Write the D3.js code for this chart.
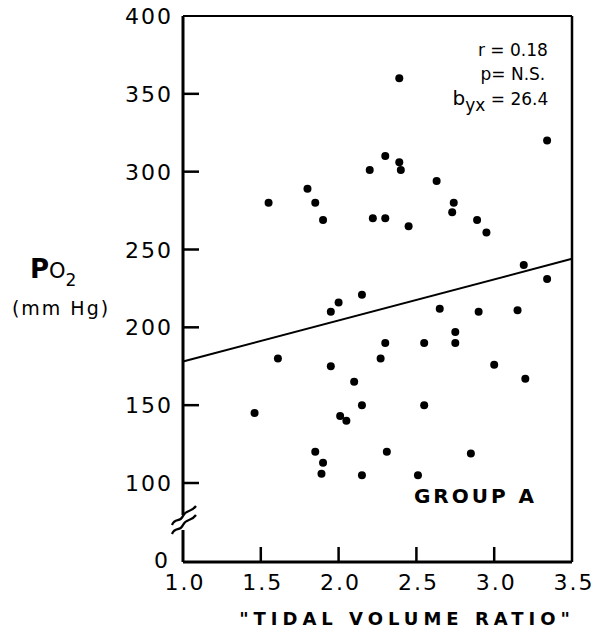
<!DOCTYPE html>
<html lang="en">

<head>
    <meta charset="UTF-8">
    <title>PO2 vs Tidal Volume Ratio - Group A</title>
    <script src="https://d3js.org/d3.v7.min.js"></script>
    <style>
        body { margin: 0; background: #fff; }
        svg text { font-family: "DejaVu Sans", "Liberation Sans", Arial, sans-serif; fill: #000; }
    </style>
</head>

<body>
    <svg width="593" height="634"></svg>

    <script>
        // values
        const tidalVolumeRatio = [
            1.46, 1.55, 1.80, 1.85, 1.90, 2.20, 2.39, 3.34, 2.30, 2.39, 2.40, 2.63,
            2.74, 2.73, 2.22, 2.30, 2.45, 2.89, 2.95, 3.19, 3.34, 2.15, 2.00, 1.95,
            2.65, 2.90, 3.15, 2.30, 2.55, 2.75, 2.75, 2.27, 1.61, 1.95, 3.00, 3.20,
            2.10, 2.15, 2.55, 2.01, 2.05, 1.85, 1.90, 1.89, 2.15, 2.31, 2.85, 2.51
        ];
        const po2 = [
            145, 280, 289, 280, 269, 301, 360, 320, 310, 306, 301, 294,
            280, 274, 270, 270, 265, 269, 261, 240, 231, 221, 216, 210,
            212, 210, 211, 190, 190, 197, 190, 180, 180, 175, 176, 167,
            165, 150, 150, 143, 140, 120, 113, 106, 105, 120, 119, 105
        ];
        const fitX = [1.0, 3.5];
        const fitY = [178, 244];

        const xTicks = [1.0, 1.5, 2.0, 2.5, 3.0, 3.5];
        const yTicks = [0, 100, 150, 200, 250, 300, 350, 400];

        const margin = { top: 16, left: 183 };
        const width = 389;
        const height = 546;

        const svg = d3.select("svg")
            .append("g")
            .attr("transform", `translate(${margin.left},${margin.top})`);

        const x = d3.scaleLinear().domain([1.0, 3.5]).range([0, width]);
        // broken axis: 0 to 100 squeezed into one short step
        const y = d3.scaleLinear().domain([0, 100, 400]).range([height, 467, 0]);

        function drawFrame() {
            // left axis, interrupted by the break mark
            const breakTop = y(100) + 32;
            const breakBottom = y(100) + 47;
            svg.append("line")
                .attr("x1", 0).attr("x2", 0)
                .attr("y1", 0).attr("y2", breakTop)
                .attr("stroke", "#000").attr("stroke-width", 3);
            svg.append("line")
                .attr("x1", 0).attr("x2", 0)
                .attr("y1", breakBottom).attr("y2", height)
                .attr("stroke", "#000").attr("stroke-width", 3);

            // bottom, right, top
            svg.append("line")
                .attr("x1", 0).attr("x2", width)
                .attr("y1", height).attr("y2", height)
                .attr("stroke", "#000").attr("stroke-width", 3);
            svg.append("line")
                .attr("x1", width).attr("x2", width)
                .attr("y1", 0).attr("y2", height)
                .attr("stroke", "#000").attr("stroke-width", 2.5);
            svg.append("line")
                .attr("x1", 0).attr("x2", width)
                .attr("y1", 0).attr("y2", 0)
                .attr("stroke", "#000").attr("stroke-width", 2);

            // break mark: two slanted squiggles
            [0, 9].forEach(off => {
                const by = breakBottom + 4 - off;
                svg.append("path")
                    .attr("d", `M -11 ${by} C -8 ${by - 8}, -3 ${by - 2}, 0 ${by - 9} S 8 ${by - 12}, 13 ${by - 19}`)
                    .attr("fill", "none")
                    .attr("stroke", "#000")
                    .attr("stroke-width", 2.2);
            });
        }

        function drawTicks() {
            // y ticks point inward
            svg.selectAll(".ytick")
                .data(yTicks.filter(d => d > 0 && d < 400))
                .enter().append("line")
                .attr("x1", 0).attr("x2", 16)
                .attr("y1", d => y(d)).attr("y2", d => y(d))
                .attr("stroke", "#000").attr("stroke-width", 2.5);

            svg.selectAll(".ylabel")
                .data(yTicks)
                .enter().append("text")
                .attr("x", d => d === 0 ? -13 : -10)
                .attr("y", d => d === 0 ? y(d) + 6 : y(d) + 8)
                .attr("text-anchor", "end")
                .style("font-size", "22px")
                .style("letter-spacing", "2px")
                .text(d => d);

            svg.selectAll(".xtick")
                .data(xTicks.slice(1, -1))
                .enter().append("line")
                .attr("x1", d => x(d)).attr("x2", d => x(d))
                .attr("y1", height).attr("y2", height - 15)
                .attr("stroke", "#000").attr("stroke-width", 2.5);

            svg.selectAll(".xlabel")
                .data(xTicks)
                .enter().append("text")
                .attr("x", d => x(d) + 2)
                .attr("y", height + 28)
                .attr("text-anchor", "middle")
                .style("font-size", "22px")
                .style("letter-spacing", "2px")
                .text(d => d.toFixed(1));
        }

        function drawTitles() {
            svg.append("text")
                .attr("x", x(2.44))
                .attr("y", height + 63)
                .attr("text-anchor", "middle")
                .style("font-size", "18px")
                .style("font-weight", "bold")
                .style("letter-spacing", "5px")
                .text("\"TIDAL VOLUME RATIO\"");

            const po = svg.append("text")
                .attr("x", -153)
                .attr("y", y(232))
                .attr("text-anchor", "start");
            po.append("tspan").style("font-size", "26px").style("font-weight", "bold").text("P");
            po.append("tspan").style("font-size", "21px").text("O");
            po.append("tspan").attr("dy", 8).style("font-size", "17px").text("2");

            svg.append("text")
                .attr("x", -122)
                .attr("y", y(208))
                .attr("text-anchor", "middle")
                .style("font-size", "19px")
                .style("letter-spacing", "2px")
                .text("(mm Hg)");
        }

        function drawAnnotations() {
            svg.append("text")
                .attr("x", x(3.12))
                .attr("y", y(374))
                .attr("text-anchor", "middle")
                .style("font-size", "17px")
                .text("r = 0.18");

            svg.append("text")
                .attr("x", x(3.12))
                .attr("y", y(359))
                .attr("text-anchor", "middle")
                .style("font-size", "17px")
                .text("p= N.S.");

            const b = svg.append("text")
                .attr("x", x(3.04))
                .attr("y", y(343))
                .attr("text-anchor", "middle")
                .style("font-size", "17px");
            b.append("tspan").style("font-size", "20px").text("b");
            b.append("tspan").attr("dy", 6).text("yx");
            b.append("tspan").attr("dy", -6).text(" = 26.4");

            svg.append("text")
                .attr("x", x(2.88))
                .attr("y", y(75))
                .attr("text-anchor", "middle")
                .style("font-size", "20px")
                .style("font-weight", "bold")
                .style("letter-spacing", "3px")
                .text("GROUP A");
        }

        function drawFit() {
            const line = d3.line()
                .x(d => x(d[0]))
                .y(d => y(d[1]));
            svg.append("path")
                .datum(d3.zip(fitX, fitY))
                .attr("fill", "none")
                .attr("stroke", "#000")
                .attr("stroke-width", 2)
                .attr("d", line);
        }

        function drawPoints() {
            svg.selectAll(".point")
                .data(d3.zip(tidalVolumeRatio, po2))
                .enter().append("circle")
                .attr("cx", d => x(d[0]))
                .attr("cy", d => y(d[1]))
                .attr("r", 4)
                .attr("fill", "#000");
        }

        drawFrame();
        drawTicks();
        drawTitles();
        drawAnnotations();
        drawFit();
        drawPoints();
    </script>
</body>

</html>
